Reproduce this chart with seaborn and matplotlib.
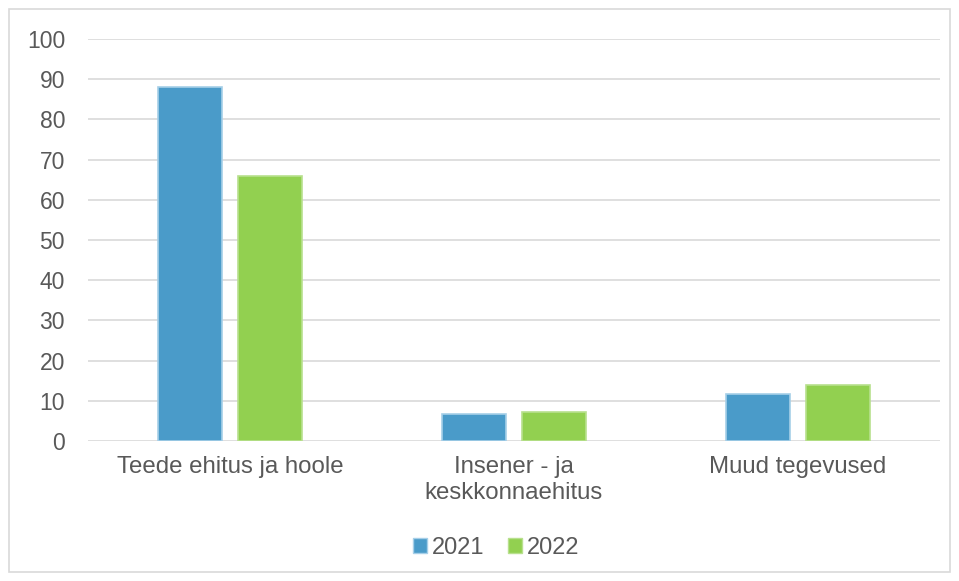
import pandas as pd
import seaborn as sns
import matplotlib.pyplot as plt
from matplotlib.patches import Rectangle

categories = ['Teede ehitus ja hoole', 'Insener - ja\nkeskkonnaehitus', 'Muud tegevused']
years = ['2021', '2022']
values_2021 = [88.1, 6.8, 11.6]
values_2022 = [66.0, 7.2, 13.9]
yticks = list(range(0, 101, 10))

df = pd.DataFrame({
    'category': categories * 2,
    'year': [years[0]] * 3 + [years[1]] * 3,
    'value': values_2021 + values_2022,
})

sns.set_theme(style='white', rc={
    'axes.spines.left': False,
    'axes.spines.right': False,
    'axes.spines.top': False,
    'axes.spines.bottom': False,
})
plt.rcParams['font.family'] = ['Liberation Sans', 'DejaVu Sans']

fig = plt.figure(figsize=(9.59, 5.81), dpi=100)
# thin border round the chart area
fig.patches.append(Rectangle((9 / 959, 9 / 581), 941 / 959, 563 / 581, transform=fig.transFigure,
                             fill=False, edgecolor='#d9d9d9', linewidth=1.2))

ax = fig.add_axes([88 / 959, 140 / 581, 852 / 959, 402 / 581])
palette = {'2021': '#4a9bc9', '2022': '#92d050'}
sns.barplot(data=df, x='category', y='value', hue='year', palette=palette,
            width=0.57, gap=0.21, saturation=1, ax=ax, legend=False)

edges = {'2021': '#a6cfe8', '2022': '#b8e08e'}
for cont, yr in zip(ax.containers, years):
    for bar in cont:
        bar.set_edgecolor(edges[yr])
        bar.set_linewidth(1.2)

ax.set_ylim(0, 100)
ax.set_yticks(yticks)
ax.yaxis.grid(True, color='#d9d9d9', linewidth=1.2)
ax.set_axisbelow(True)
ax.set_xlabel('')
ax.set_ylabel('')
ax.tick_params(axis='both', length=0, labelcolor='#595959')
ax.tick_params(axis='y', labelsize=16.5, pad=16.5)
ax.tick_params(axis='x', labelsize=17.3, pad=11)

handles = [Rectangle((0, 0), 1, 1, facecolor=palette[y], edgecolor=edges[y]) for y in years]
fig.legend(handles, years, loc='center', bbox_to_anchor=(496 / 959, 1 - 548 / 581), ncol=2,
           frameon=False, fontsize=17, labelcolor='#595959', handlelength=0.6, handleheight=0.6,
           handletextpad=0.2, columnspacing=1.0)

fig.savefig('out.png', dpi=100, facecolor='white')
